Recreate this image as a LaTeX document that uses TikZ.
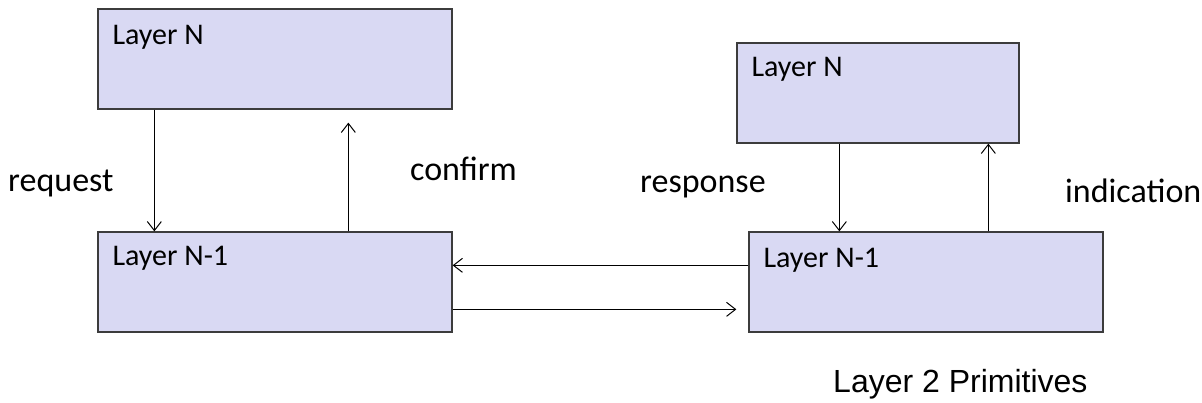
\documentclass[tikz,border=0pt]{standalone}
\usepackage{fontspec}
\setmainfont{Carlito}
\newfontfamily\arialfont{Liberation Sans}
\usetikzlibrary{calc}
\usetikzlibrary{arrows.meta}

\definecolor{layerfill}{RGB}{217,217,243}
\definecolor{layerline}{RGB}{60,60,60}

\tikzset{
 layer/.style={draw=layerline, fill=layerfill, line width=1.3pt, minimum height=100pt, inner sep=0},
 layertext/.style={font=\fontsize{30}{32}\selectfont, inner sep=0, anchor=base west},
 primtext/.style={font=\fontsize{34}{36}\selectfont, inner sep=0, anchor=base west},
 msg/.style={line width=1pt, -{Straight Barb[length=9pt,width=14pt]}},
}

\begin{document}
\begin{tikzpicture}[x=1pt,y=1pt]
\useasboundingbox (0,0) rectangle (1202,402);

% boxes
\node[layer, minimum width=354pt] (topN) at (275,343) {};
\node[layer, minimum width=354pt] (lowN) at (275,120) {};
\node[layer, minimum width=282pt] (rtopN) at (878,309) {};
\node[layer, minimum width=354pt] (rlowN) at (926,120) {};

\node[layertext] (topNtxt) at ($(topN.north west)+(15,-36)$) {Layer N};
\node[layertext] (lowNtxt) at ($(lowN.north west)+(15,-34)$) {Layer N-1};
\node[layertext] (rtopNtxt) at ($(rtopN.north west)+(15,-34)$) {Layer N};
\node[layertext] (rlowNtxt) at ($(rlowN.north west)+(15,-36)$) {Layer N-1};

% primitives
\draw[msg] ($(topN.south west)+(57,0)$) -- ($(lowN.north west)+(57,0)$);
\draw[msg] ($(lowN.north west)+(251,0)$) -- ($(topN.south west)+(251,-13)$);
\draw[msg] ($(rtopN.south west)+(103,0)$) -- ($(rlowN.north west)+(91,0)$);
\draw[msg] ($(rlowN.north west)+(240,0)$) -- ($(rtopN.south west)+(252,0)$);
\draw[msg] ($(rlowN.north west)+(0,-34)$) -- ($(lowN.north east)+(0,-34)$);
\draw[msg] ($(lowN.north east)+(0,-78)$) -- ($(rlowN.north west)+(-12,-78)$);

\node[primtext] (request) at (8,210) {request};
\node[primtext] (confirm) at (410,221) {confirm};
\node[primtext] (response) at (640,209) {response};
\node[primtext] (indication) at (1065,199) {indication};

\node[font=\arialfont\fontsize{32}{34}\selectfont, inner sep=0, anchor=base west] (title) at (833,10) {Layer 2 Primitives};
\end{tikzpicture}
\end{document}
